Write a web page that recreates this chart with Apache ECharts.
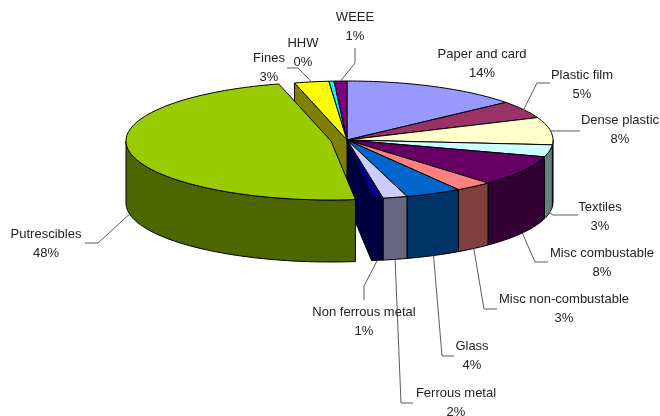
<!DOCTYPE html>
<html>
<head>
<meta charset="utf-8">
<style>html,body{margin:0;padding:0;background:#fff}#chart{width:660px;height:416px}</style>
<script src="https://cdn.jsdelivr.net/npm/echarts@6/dist/echarts.min.js"></script>
</head>
<body>
<div id="chart"></div>
<script>
// Waste composition, percentage share per stream, clockwise from twelve o'clock.
const categories = ['Paper and card', 'Plastic film', 'Dense plastic', 'Textiles', 'Misc combustable',
  'Misc non-combustable', 'Glass', 'Ferrous metal', 'Non ferrous metal', 'Putrescibles', 'Fines', 'HHW', 'WEEE'];
const shares = [14.0, 4.8, 7.5, 3.3, 8.4, 2.9, 4.4, 1.9, 0.9, 47.8, 2.7, 0.4, 1.0];
const topColors = ['#9999ff', '#993366', '#ffffcc', '#ccffff', '#660066', '#ff8080', '#0066cc',
  '#ccccff', '#000080', '#99cc00', '#ffff00', '#00ffff', '#800080'];
const wallColors = ['#4d4d80', '#4d1a33', '#808066', '#668080', '#330033', '#804040', '#003366',
  '#666680', '#000040', '#4d6600', '#808000', '#008080', '#400040'];

// Projected disc: ellipse radii, extrusion depth and centres in axis units.
const disc = { cx: 347, cy: 140, rx: 206, ry: 59, depth: 62 };
const pulledOut = { index: 9, cx: 331, cy: 141, rx: 205 };

// Label centre, first-line height, and the elbow points of each leader line.
const labelLayout = [
  { x: 482, y: 54, elbows: null },
  { x: 582, y: 75, elbows: [[537, 83], [550, 83]] },
  { x: 620, y: 120, elbows: [[580, 131]] },
  { x: 600, y: 207, elbows: [[553, 215], [578, 215]] },
  { x: 602, y: 253, elbows: [[535, 262], [548, 262]] },
  { x: 564, y: 299, elbows: [[484, 309], [497, 309]] },
  { x: 472, y: 346, elbows: [[442, 356], [454, 356]] },
  { x: 456, y: 393, elbows: [[401, 403], [413, 403]] },
  { x: 364, y: 312, elbows: [[364, 286], [364, 300]] },
  { x: 46, y: 234, elbows: [[98, 243], [85, 243]] },
  { x: 269, y: 58, elbows: [[298, 68], [287, 68]] },
  { x: 303, y: 43, elbows: null },
  { x: 355, y: 17, elbows: [[355, 63], [355, 48]] }
];

const total = shares.reduce((a, b) => a + b, 0);
const startAngles = [];
shares.reduce((acc, v, i) => { startAngles[i] = acc; return acc + v / total * 360; }, 0);

function rimPoint(angle, c, drop) {
  const t = angle * Math.PI / 180;
  return [c.cx + c.rx * Math.sin(t), c.cy - disc.ry * Math.cos(t) + (drop || 0)];
}
function arc(from, to, c, drop) {
  const pts = [];
  const steps = Math.max(1, Math.ceil((to - from) / 1.5));
  for (let k = 0; k <= steps; k++) pts.push(rimPoint(from + (to - from) * k / steps, c, drop));
  return pts;
}

function renderSlice(params, api) {
  const i = params.dataIndex;
  const value = api.value(1);
  const from = startAngles[i];
  const to = from + value / total * 360;
  const mid = (from + to) / 2;
  const pulled = i === pulledOut.index;
  const c = pulled ? pulledOut : { cx: disc.cx, cy: disc.cy, rx: disc.rx };
  const z = pulled ? 10 : 1;
  const px = p => api.coord(p);
  const face = (points, fill, z2) => ({
    type: 'polygon', z2, silent: true,
    shape: { points: points.map(px) },
    style: { fill, stroke: '#000', lineWidth: 1, lineJoin: 'round' }
  });
  const children = [];

  // Outer wall: only the part of the rim that faces the viewer.
  const wallFrom = Math.max(from, 90);
  const wallTo = Math.min(to, 270);
  if (wallTo > wallFrom) {
    const upper = arc(wallFrom, wallTo, c, 0);
    const lower = arc(wallFrom, wallTo, c, disc.depth).reverse();
    children.push(face(upper.concat(lower), wallColors[i], z));
  }
  // Cut faces exposed by the gap next to the pulled-out wedge.
  if (i === pulledOut.index - 1 || i === pulledOut.index + 1) {
    const edge = i < pulledOut.index ? to : from;
    const rim = rimPoint(edge, c, 0);
    const apex = [c.cx, c.cy];
    children.push(face([apex, rim, [rim[0], rim[1] + disc.depth], [apex[0], apex[1] + disc.depth]], wallColors[i], 0));
  }
  // Top surface.
  children.push(face([[c.cx, c.cy]].concat(arc(from, to, c, 0)), topColors[i], z + 1));

  // Leader line and label.
  const spot = labelLayout[i];
  if (spot.elbows) {
    const onWall = mid > 90 && mid < 270;
    const start = rimPoint(mid, c, onWall ? disc.depth : 0);
    children.push({
      type: 'polyline', z2: 20, silent: true,
      shape: { points: [start].concat(spot.elbows).map(px) },
      style: { fill: null, stroke: '#5a5a5a', lineWidth: 1 }
    });
  }
  const at = px([spot.x, spot.y]);
  children.push({
    type: 'text', z2: 30, silent: true,
    style: {
      text: categories[i] + '\n' + Math.round(value) + '%',
      x: at[0], y: at[1] - 9,
      align: 'center', verticalAlign: 'top', lineHeight: 19,
      fontFamily: '"Liberation Sans", Arial, sans-serif', fontSize: 13, fill: '#222'
    }
  });
  return { type: 'group', children };
}

const chart = echarts.init(document.getElementById('chart'), null, { renderer: 'canvas' });
chart.setOption({
  animation: false,
  backgroundColor: '#fff',
  grid: { left: 0, right: 0, top: 0, bottom: 0 },
  xAxis: { type: 'value', min: 0, max: 660, show: false },
  yAxis: { type: 'value', min: 0, max: 416, inverse: true, show: false },
  series: [{
    type: 'custom',
    name: 'Waste composition',
    coordinateSystem: 'cartesian2d',
    clip: false,
    encode: { x: 0, y: 1 },
    data: shares.map((v, i) => [i, v]),
    renderItem: renderSlice
  }]
});
</script>
</body>
</html>
